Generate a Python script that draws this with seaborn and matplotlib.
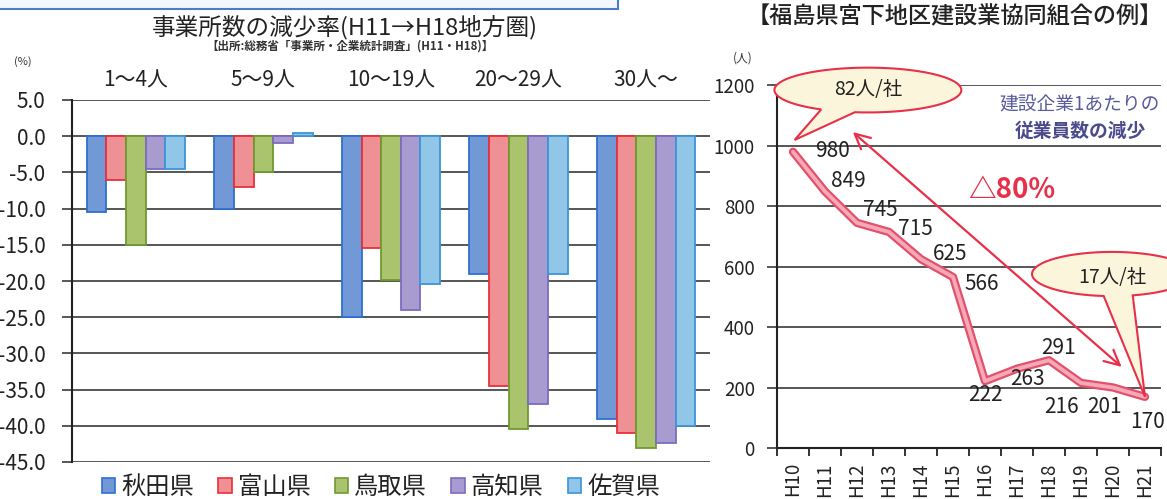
import numpy as np
import pandas as pd
import matplotlib
matplotlib.use('Agg')
import matplotlib.pyplot as plt
import seaborn as sns
from matplotlib.patches import Polygon, Rectangle, Patch
from matplotlib.ticker import FormatStrFormatter, FixedLocator
import matplotlib.patheffects as pe

# ---------------- data ----------------
size_classes = ['1～4人', '5～9人', '10～19人', '20～29人', '30人～']
prefectures = ['秋田県', '富山県', '鳥取県', '高知県', '佐賀県']
akita = [-10.5, -10.0, -25.0, -19.0, -39.0]
toyama = [-6.0, -7.0, -15.4, -34.5, -41.0]
tottori = [-15.0, -5.0, -19.8, -40.5, -43.0]
kochi = [-4.5, -1.0, -24.0, -37.0, -42.4]
saga = [-4.5, 0.5, -20.4, -19.0, -40.0]

years = ['H10', 'H11', 'H12', 'H13', 'H14', 'H15',
         'H16', 'H17', 'H18', 'H19', 'H20', 'H21']
employees = [980, 849, 745, 715, 625, 566, 222, 263, 291, 216, 201, 170]

# ---------------- style ----------------
sns.set_theme(style='white')
plt.rcParams['font.family'] = ['Noto Sans CJK JP', 'DejaVu Sans']
plt.rcParams['axes.unicode_minus'] = False

face_colors = ['#7199d6', '#ee9094', '#a9c46c', '#a89bd0', '#90c6e8']
edge_colors = ['#2f6fd0', '#e8303a', '#6f9a30', '#7d6cc0', '#3d94d8']
grid_col = '#3a3a3a'
red = '#e8304a'

W, H = 1167, 499
fig = plt.figure(figsize=(W / 100, H / 100), dpi=100)
fig.patch.set_facecolor('white')

def fx(px):
    return px / W

def fy(py):
    return 1 - py / H

# top cut-off box
fig.patches.append(Rectangle((-0.01, fy(9)), fx(618) + 0.01, 0.05,
                             transform=fig.transFigure, fc='#f4f8fc',
                             ec='#4a7cc8', lw=1.5))

# ---------------- left: bar chart ----------------
ax1 = fig.add_axes([fx(72), fy(462), fx(710) - fx(72), fy(100) - fy(462)])
series = [akita, toyama, tottori, kochi, saga]
df = pd.DataFrame({
    'size': np.repeat([size_classes], len(prefectures), axis=0).ravel(),
    'pref': np.repeat(prefectures, len(size_classes)),
    'rate': np.concatenate(series),
})
sns.barplot(data=df, x='size', y='rate', hue='pref', order=size_classes,
            hue_order=prefectures, palette=face_colors, saturation=1,
            width=0.77, gap=0, legend=False, ax=ax1, zorder=3)
for cont, ec in zip(ax1.containers, edge_colors):
    for bar in cont:
        bar.set_edgecolor(ec)
        bar.set_linewidth(1.3)

ax1.set_ylim(-45, 5)
ax1.set_xlim(-0.5, 4.5)
ax1.set_yticks(np.arange(-45, 5.1, 5))
ax1.yaxis.set_major_formatter(FormatStrFormatter('%.1f'))
ax1.yaxis.grid(True, color=grid_col, lw=1.2, zorder=1)
ax1.set_axisbelow(True)
ax1.set_xlabel('')
ax1.set_ylabel('')
for s in ['top', 'right', 'bottom']:
    ax1.spines[s].set_visible(False)
ax1.spines['left'].set_color('#222222')
ax1.spines['left'].set_linewidth(1.5)
ax1.tick_params(axis='y', left=True, length=7, width=1.2, color=grid_col,
                pad=12, labelsize=15, labelcolor='#222222')
ax1.xaxis.tick_top()
ax1.tick_params(axis='x', top=False, bottom=False, length=0, pad=6,
                labelsize=15, labelcolor='#222222')

fig.text(fx(345), fy(27), '事業所数の減少率(H11→H18地方圏)', ha='center',
         va='center', fontsize=17, color='#222222')
fig.text(fx(350), fy(46), '【出所:総務省「事業所・企業統計調査」(H11・H18)】',
         ha='center', va='center', fontsize=8.3, weight='bold', color='#333333')
fig.text(fx(23), fy(62), '(%)', ha='center', va='center', fontsize=8,
         color='#333333')

handles = [Patch(facecolor=fc, edgecolor=ec, lw=1.2)
           for fc, ec in zip(face_colors, edge_colors)]
fig.legend(handles, prefectures, ncol=5, loc='center',
           bbox_to_anchor=(fx(381), fy(487)), frameon=False, fontsize=17.5,
           handlelength=0.55, handleheight=0.55, handletextpad=0.25,
           columnspacing=1.0, labelcolor='#222222')

# ---------------- right: line chart ----------------
ax2 = fig.add_axes([fx(777), fy(448.3), fx(1161) - fx(777),
                    fy(85.2) - fy(448.3)])
line_df = pd.DataFrame({'year': years, 'emp': employees})
sns.lineplot(data=line_df, x='year', y='emp', sort=False, ax=ax2,
             color='#f5a9b8', lw=2.8, zorder=4,
             path_effects=[pe.Stroke(linewidth=6, foreground='#e2506a'),
                           pe.Normal()])
ax2.set_xlim(-0.5, 11.5)
ax2.set_ylim(0, 1200)
ax2.set_yticks(np.arange(0, 1201, 200))
ax2.yaxis.grid(True, color=grid_col, lw=1.2, zorder=1)
ax2.set_axisbelow(True)
ax2.set_xlabel('')
ax2.set_ylabel('')
for s in ['top', 'right']:
    ax2.spines[s].set_visible(False)
for s in ['left', 'bottom']:
    ax2.spines[s].set_color('#222222')
    ax2.spines[s].set_linewidth(1.5)
ax2.set_xticks(range(len(years)))
ax2.set_xticklabels(years, rotation=90)
ax2.xaxis.set_minor_locator(FixedLocator(np.arange(-0.5, len(years), 1.0)))
ax2.tick_params(axis='x', which='major', bottom=False, length=0, pad=10,
                labelsize=13.5, labelcolor='#222222')
ax2.tick_params(axis='x', which='minor', bottom=True, length=6, width=1.3,
                color='#222222')
ax2.tick_params(axis='y', left=True, length=7, width=1.2, color=grid_col,
                pad=9, labelsize=13.5, labelcolor='#222222')
fig.text(fx(743), fy(58), '(人)', ha='center', va='center', fontsize=8.5,
         color='#333333')

label_offsets = [(40, 1), (23, 10), (23, 13), (26, 3), (29, 5), (29, -7),
                 (0, -14), (11, -10), (10, 12), (-19, -24), (-8, -20),
                 (2, -25)]
for i, (v, off) in enumerate(zip(employees, label_offsets)):
    ax2.annotate(str(v), xy=(i, v), xytext=off, textcoords='offset pixels',
                 ha='center', va='center', fontsize=15, color='#222222',
                 zorder=6)

def bubble(ax, cx, cy, rx, ry, a1, a2, tip):
    th = np.radians(np.linspace(a2, a1 + 360, 200))
    pts = np.column_stack([cx + rx * np.cos(th), cy + ry * np.sin(th)])
    pts = np.vstack([pts, tip])
    ax.add_patch(Polygon(pts, closed=True, fc='#fbf5dc', ec=red, lw=1.5,
                         clip_on=False, zorder=5))

bubble(ax2, 2.34, 1184, 2.92, 74, -120, -98, (0.05, 1019))
bubble(ax2, 9.97, 576, 2.5, 73, -96, -75, (11, employees[-1]))

ax2.annotate('', xy=(10.27, 269), xytext=(1.87, 1045),
             arrowprops=dict(arrowstyle='<->,head_length=0.9,head_width=0.45',
                             color=red, lw=1.6, shrinkA=0, shrinkB=0),
             zorder=6)

fig.text(fx(868), fy(89), '82人/社', ha='center', va='center', fontsize=14,
         color='#222222')
fig.text(fx(1112), fy(277), '17人/社', ha='center', va='center', fontsize=14,
         color='#222222')
fig.text(fx(1012), fy(190), '△80%', ha='center', va='center', fontsize=20,
         weight='bold', color=red)
fig.text(fx(1080), fy(105), '建設企業1あたりの', ha='center', va='center',
         fontsize=13.5, color='#5a5a9c')
fig.text(fx(1080), fy(131), '従業員数の減少', ha='center', va='center',
         fontsize=13.5, weight='bold', color='#4a4a8c')
fig.text(fx(955), fy(17), '【福島県宮下地区建設業協同組合の例】', ha='center',
         va='center', fontsize=16.7, weight='medium', color='#222222')

fig.savefig('out.png', dpi=100)
